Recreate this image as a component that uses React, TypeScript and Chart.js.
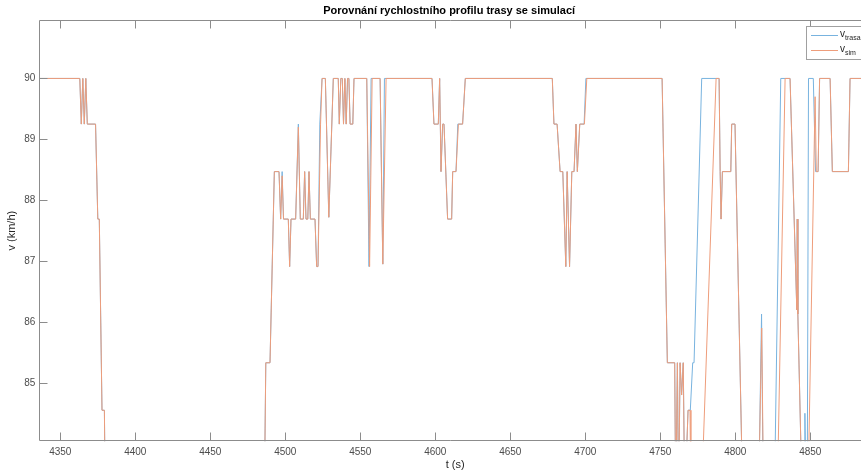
import React, { useEffect, useRef } from 'react';
import { Chart, registerables } from 'chart.js';

Chart.register(...registerables);

const chartTitle = 'Porovnání rychlostního profilu trasy se simulací';
const xLabel = 't (s)';
const yLabel = 'v (km/h)';
const xTicks = [4350, 4400, 4450, 4500, 4550, 4600, 4650, 4700, 4750, 4800, 4850];
const yTicks = [85, 86, 87, 88, 89, 90];

// v_trasa
const tTrasa = [
  4336, 4363, 4364, 4365, 4366, 4367, 4368, 4373.5, 4375, 4376, 4377.8, 4379.4, 4380,
  4486, 4487, 4489.8, 4492.7, 4495.8, 4496.9, 4497.9, 4498.8, 4502, 4502.9, 4503.8, 4506.9,
  4508.7, 4510, 4512, 4512.9, 4513.8, 4515, 4515.8, 4516.7, 4519.8, 4520.9, 4521.8, 4523, 4524.5,
  4526.7, 4529, 4532, 4535.3, 4536, 4537, 4538, 4538.8, 4539.7, 4540.6, 4541.5, 4542.4, 4543.2,
  4545, 4545.8, 4554.3, 4555.8, 4557.2, 4563.2, 4565, 4566.1, 4597.8, 4599.1, 4602, 4602.9,
  4603.8, 4604.9, 4605.8, 4608.2, 4610.9, 4611.6, 4613.8, 4615, 4618.2, 4620, 4678, 4679.1,
  4681.2, 4683.2, 4685, 4687, 4687.9, 4689.5, 4691, 4692.5, 4693.8, 4694.7, 4696.3, 4699.2,
  4700.4, 4751.2, 4754.7, 4759.6, 4760.3, 4761.4, 4762.2, 4763.2, 4764.2, 4765.3, 4766.3,
  4768.5, 4770, 4771.6, 4772.5, 4777.6, 4789.2, 4789.9, 4790.5, 4791.4, 4797, 4797.6, 4799.8,
  4804.3, 4815.8, 4817.5, 4818.5, 4826.5, 4830.3, 4836.5, 4841, 4841.3, 4841.7, 4843.8,
  4845.8, 4846.4, 4847, 4848, 4848.8, 4852, 4853.5, 4855.2, 4856.2, 4863.2, 4864.7, 4875.4,
  4876.5, 4884,
];
const vTrasa = [
  90, 90, 89.25, 90, 89.25, 90, 89.25, 89.25, 87.69, 87.69, 84.55, 84.55, 83,
  83, 85.33, 85.33, 88.47, 88.47, 87.69, 88.47, 87.69, 87.69, 86.91, 87.69, 87.69,
  89.25, 87.69, 87.69, 88.47, 87.69, 87.69, 88.47, 87.69, 87.69, 86.91, 86.91, 89.25, 90,
  90, 87.72, 90, 90, 89.25, 90, 90, 89.25, 90, 89.25, 90, 90, 89.25,
  89.25, 90, 90, 86.91, 90, 90, 86.95, 90, 90, 89.25, 89.25, 90,
  88.47, 89.25, 89.25, 87.69, 87.69, 88.47, 88.47, 89.25, 89.25, 90, 90, 89.25,
  89.25, 88.47, 88.47, 86.91, 88.47, 86.91, 88.47, 88.47, 89.25, 88.47, 89.25, 89.25,
  90, 90, 85.33, 85.33, 83, 85.33, 83, 85.33, 84.8, 85.33, 83,
  84.55, 84.55, 85.33, 85.33, 90, 90, 88.47, 87.69, 88.47, 88.47, 89.25, 89.25,
  83.9, 83.5, 86.13, 83.5, 83.8, 90, 90, 86.2, 87.69, 86.13, 83.9,
  83.5, 84.5, 83.5, 83.5, 90, 90, 88.47, 88.47, 90, 90, 88.47, 88.47,
  90, 90,
];

// v_sim
const tSim = [
  4336, 4363, 4364, 4365, 4366, 4367, 4368, 4373.5, 4375, 4376, 4377.8, 4379.4, 4380,
  4486, 4487, 4489.8, 4492.7, 4495.8, 4496.9, 4497.9, 4498.8, 4502, 4502.9, 4503.8, 4506.9,
  4508.7, 4510, 4512, 4512.9, 4513.8, 4515, 4515.8, 4516.7, 4519.8, 4520.9, 4521.8, 4523.5, 4524.5,
  4526.7, 4529, 4532, 4535.3, 4536, 4537, 4538, 4538.8, 4539.7, 4540.6, 4541.5, 4542.4, 4543.2,
  4545, 4545.8, 4554.3, 4556.2, 4557.9, 4563.2, 4565, 4567.2, 4597.8, 4599.1, 4602, 4602.9,
  4603.8, 4604.9, 4605.8, 4608.2, 4610.9, 4611.6, 4613.8, 4615.4, 4618.2, 4620, 4678, 4679.1,
  4681.2, 4683.2, 4685, 4687, 4687.9, 4689.5, 4691, 4692.5, 4693.8, 4694.7, 4696.3, 4699.4,
  4701, 4751.2, 4754.7, 4759.6, 4760.3, 4761.4, 4762.2, 4763.2, 4764.2, 4765.3, 4766.3,
  4768.5, 4769.8, 4770.4, 4778.4, 4787.2, 4789.2, 4789.9, 4790.5, 4791.4, 4797, 4797.6, 4799.8,
  4804.3, 4815.8, 4817.6, 4818.7, 4828.5, 4833.2, 4836.5, 4841, 4841.3, 4841.7, 4843.8,
  4849, 4853.2, 4854, 4855.2, 4856.2, 4863.2, 4864.7, 4875.4, 4876.5, 4884,
];
const vSim = [
  90, 90, 89.25, 90, 89.25, 90, 89.25, 89.25, 87.69, 87.69, 84.55, 84.55, 83,
  83, 85.33, 85.33, 88.47, 88.47, 87.69, 88.4, 87.69, 87.69, 86.91, 87.69, 87.69,
  89.2, 87.69, 87.69, 88.47, 87.69, 87.69, 88.47, 87.69, 87.69, 86.91, 86.91, 89.25, 90,
  90, 87.72, 90, 90, 89.25, 90, 90, 89.25, 90, 89.25, 90, 90, 89.25,
  89.25, 90, 90, 86.91, 90, 90, 86.95, 90, 90, 89.25, 89.25, 90,
  88.47, 89.25, 89.25, 87.69, 87.69, 88.47, 88.47, 89.25, 89.25, 90, 90, 89.25,
  89.25, 88.47, 88.47, 86.91, 88.47, 86.91, 88.47, 88.47, 89.25, 88.47, 89.25, 89.25,
  90, 90, 85.33, 85.33, 83, 85.33, 83, 85.33, 84.8, 85.33, 83,
  84.55, 84.55, 83, 83.8, 90, 90, 88.47, 87.69, 88.47, 88.47, 89.25, 89.25,
  83.9, 83.5, 85.9, 83.5, 83.8, 90, 90, 86.2, 87.69, 86.13, 83.9,
  83.9, 89.7, 88.47, 88.47, 90, 90, 88.47, 88.47, 90, 90,
];

const seriesNames = ['trasa', 'sim'];
const FONT = '"Liberation Sans", Arial, Helvetica, sans-serif';
const BLUE = '#78b3df';
const ORANGE = '#ee9d7b';
const AXIS = '#8c8c8c';

const framePlugin = {
  id: 'matlabFrame',
  afterDraw(chart: any) {
    const { ctx, chartArea } = chart;
    const xs = chart.scales.x;
    const ys = chart.scales.y;
    const L = Math.round(chartArea.left) + 0.5;
    const T = Math.round(chartArea.top) + 0.5;
    const B = Math.round(chartArea.bottom) - 0.5;
    const R = chartArea.right;
    ctx.save();
    ctx.strokeStyle = AXIS;
    ctx.lineWidth = 1;
    ctx.beginPath();
    ctx.moveTo(L, T); ctx.lineTo(R, T);
    ctx.moveTo(L, T); ctx.lineTo(L, B);
    ctx.moveTo(L, B); ctx.lineTo(R, B);
    for (const v of xTicks) {
      const px = Math.round(xs.getPixelForValue(v)) + 0.5;
      ctx.moveTo(px, B); ctx.lineTo(px, B - 8);
      ctx.moveTo(px, T); ctx.lineTo(px, T + 8);
    }
    for (const v of yTicks) {
      const py = Math.round(ys.getPixelForValue(v)) + 0.5;
      ctx.moveTo(L, py); ctx.lineTo(L + 8, py);
    }
    ctx.stroke();

    // title
    ctx.fillStyle = '#000';
    ctx.font = `bold 11px ${FONT}`;
    ctx.textAlign = 'center';
    ctx.textBaseline = 'middle';
    ctx.fillText(chartTitle, (chartArea.left + chartArea.right) / 2 - 1, 11);

    // axis labels
    ctx.fillStyle = '#262626';
    ctx.font = `11px ${FONT}`;
    ctx.fillText(xLabel, (chartArea.left + chartArea.right) / 2 + 5, 465);
    ctx.save();
    ctx.translate(12, (chartArea.top + chartArea.bottom) / 2);
    ctx.rotate(-Math.PI / 2);
    ctx.fillText(yLabel, 0, 0);
    ctx.restore();

    // legend
    const lx = 806.5, ly = 26.5, lw = 70, lh = 33;
    ctx.fillStyle = '#fff';
    ctx.fillRect(lx, ly, lw, lh);
    ctx.strokeStyle = '#a0a0a0';
    ctx.strokeRect(lx, ly, lw, lh);
    const colors = [BLUE, ORANGE];
    seriesNames.forEach((name, i) => {
      const y = 35.5 + i * 15;
      ctx.strokeStyle = colors[i];
      ctx.beginPath();
      ctx.moveTo(811, y); ctx.lineTo(838, y);
      ctx.stroke();
      ctx.fillStyle = '#262626';
      ctx.textAlign = 'left';
      ctx.textBaseline = 'alphabetic';
      ctx.font = `10px ${FONT}`;
      ctx.fillText('v', 840, y + 1);
      ctx.font = `7px ${FONT}`;
      ctx.fillText(name, 845, y + 4);
    });
    ctx.restore();
  },
};

export default function App() {
  const ref = useRef<HTMLCanvasElement>(null);
  useEffect(() => {
    if (!ref.current) return;
    const mk = (ts: number[], vs: number[]) => ts.map((t, i) => ({ x: t, y: vs[i] }));
    const chart = new Chart(ref.current, {
      type: 'line',
      data: {
        datasets: [
          {
            label: 'v_trasa',
            data: mk(tTrasa, vTrasa),
            borderColor: BLUE,
            borderWidth: 1,
            pointRadius: 0,
            tension: 0,
            fill: false,
            order: 2,
          },
          {
            label: 'v_sim',
            data: mk(tSim, vSim),
            borderColor: ORANGE,
            borderWidth: 1,
            pointRadius: 0,
            tension: 0,
            fill: false,
            order: 1,
          },
        ],
      },
      options: {
        animation: false,
        responsive: false,
        devicePixelRatio: 1,
        layout: { padding: { top: 20, left: 0, right: 0, bottom: 0 } },
        plugins: { legend: { display: false }, title: { display: false }, tooltip: { enabled: false } },
        scales: {
          x: {
            type: 'linear',
            min: 4336,
            max: 4883.8,
            grid: { display: false, drawTicks: false },
            border: { display: false },
            afterBuildTicks: (s: any) => { s.ticks = xTicks.map((v) => ({ value: v })); },
            afterFit: (s: any) => { s.height = 29.7; },
            ticks: {
              autoSkip: false, maxRotation: 0, padding: 5, color: '#4d4d4d',
              font: { family: FONT, size: 10 },
              callback: (v: any) => String(v),
            },
          },
          y: {
            type: 'linear',
            min: 84.04,
            max: 90.96,
            grid: { display: false, drawTicks: false },
            border: { display: false },
            afterBuildTicks: (s: any) => { s.ticks = yTicks.map((v) => ({ value: v })); },
            afterFit: (s: any) => { s.width = 39.3; },
            ticks: {
              autoSkip: false, padding: 4, color: '#4d4d4d',
              font: { family: FONT, size: 10 },
              callback: (v: any) => String(v),
            },
          },
        },
      },
      plugins: [framePlugin],
    });
    return () => chart.destroy();
  }, []);
  return (
    <div style={{ position: 'absolute', left: 0, top: 0, width: 861, height: 471, background: '#fff' }}>
      <canvas ref={ref} width={861} height={471} style={{ width: 861, height: 471, display: 'block' }} />
    </div>
  );
}
